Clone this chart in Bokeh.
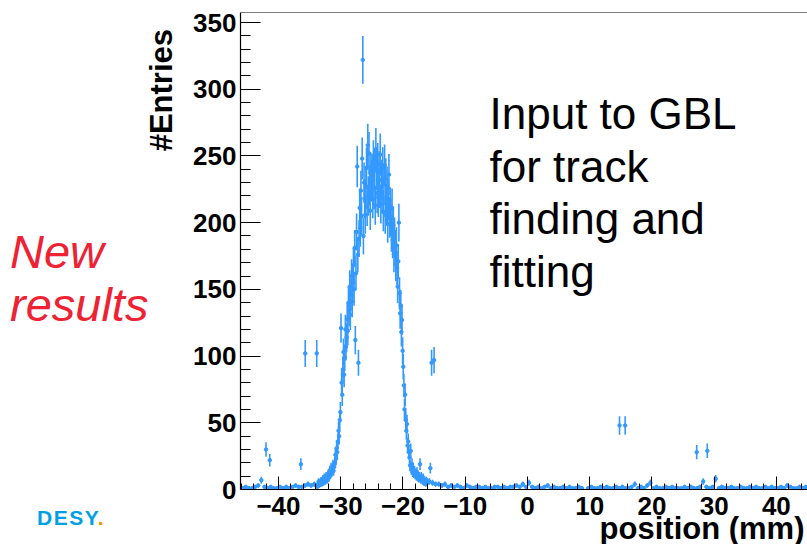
import numpy as np
from bokeh.plotting import figure
from bokeh.layouts import row
from bokeh.models import Range1d, Label, Span, SingleIntervalTicker, ColumnDataSource, Title, Div
from bokeh.embed import file_html
from bokeh.resources import INLINE

# ---------------- data ----------------
# core region histogram: bins of 0.1 mm starting at -34.0 mm
core_lo = -34.0
core_w = 0.1
core_counts = [
    3, 102, 2, 4, 6, 3, 4, 5, 7, 4,
    6, 8, 5, 9, 7, 6, 10, 8, 7, 11,
    12, 9, 14, 11, 16, 13, 15, 18, 14, 17,
    20, 26, 23, 31, 28, 36, 44, 40, 52, 58,
    121, 80, 71, 90, 103, 86, 99, 120, 107, 114,
    128, 119, 140, 134, 152, 131, 146, 160, 141, 155,
    168, 150, 181, 112, 162, 193, 242, 176, 95, 188,
    211, 196, 224, 205, 248, 322, 190, 230, 218, 206,
    227, 241, 212, 258, 220, 252, 228, 209, 237, 231,
    236, 218, 246, 225, 239, 213, 255, 240, 222, 244,
    219, 238, 226, 251, 214, 232, 223, 241, 208, 229,
    243, 206, 233, 214, 227, 199, 218, 236, 203, 212,
    204, 192, 211, 187, 198, 176, 190, 181, 169, 183,
    166, 152, 171, 200, 147, 132, 138, 118, 127, 104,
    92, 78, 60, 71, 52, 44, 49, 33, 36, 28,
    24, 18, 29, 15, 19, 13, 16, 12, 14, 11,
    12, 10, 13, 9, 11, 8, 10, 19, 7, 10,
    8, 6, 9, 5, 7, 6, 4, 7, 5, 6,
]

# background (0.5 mm bins) left of the core: -46 .. -34 mm
bg_w = 0.5
bg_left_lo = -46.0
bg_left_counts = [1, 2, 1, 1, 2, 3, 7, 2, 1, 2, 1, 1,
                  2, 1, 2, 1, 2, 3, 2, 2, 3, 4, 3, 4]

# background (0.5 mm bins) right of the core: -16 .. 45 mm
bg_right_lo = -16.0
bg_right_counts = [
    6, 5, 4, 4,  3, 4, 2, 3,  2, 3, 2, 1,  3, 2, 1, 2,
    2, 1, 2, 1,  1, 2, 2, 1,  2, 1, 2, 2,  3, 2, 4, 2,
    5, 2, 1, 2,  1, 2, 3, 1,  2, 1, 1, 2,  1, 2, 1, 1,
    2, 1, 0, 1,  2, 1, 1, 2,  1, 2, 1, 1,  2, 1, 2, 1,
    1, 2, 4, 1,  2, 1, 3, 5,  1, 2, 1, 1,  2, 1, 2, 1,
    1, 1, 2, 1,  2, 1, 1, 2,  6, 2, 1, 2,  8, 1, 2, 1,
    1, 2, 1, 1,  2, 1, 1, 2,  1, 2, 1, 1,  2, 1, 2, 1,
    1, 2, 1, 3,  2, 1, 1, 2,  1, 2,
]

# isolated entries (position in mm, counts)
out_pos = [-42.0, -41.4, -36.4, -35.7, -15.6, -15.4, -15.0, 14.8, 15.7, 27.2, 28.9]
out_counts = [30, 22, 19, 102, 16, 95, 97, 48, 48, 28, 29]
out_w = 0.1

x_tick_values = [-40, -30, -20, -10, 0, 10, 20, 30, 40]
x_tick_labels = ["\u221240", "\u221230", "\u221220", "\u221210", "0", "10", "20", "30", "40"]
y_tick_values = [0, 50, 100, 150, 200, 250, 300, 350]
y_tick_labels = ["0", "50", "100", "150", "200", "250", "300", "350"]

x_title = "position (mm)"
y_title = "#Entries"
note_lines = ["Input to GBL", "for track", "finding and", "fitting"]
badge_lines = ["New", "results"]
logo_word = "DESY"

# ---------------- assemble histogram ----------------
xs, ys, ws = [], [], []
for i, c in enumerate(core_counts):
    xs.append(core_lo + (i + 0.5) * core_w); ys.append(c); ws.append(core_w)
for i, c in enumerate(bg_left_counts):
    xs.append(bg_left_lo + (i + 0.5) * bg_w); ys.append(c); ws.append(bg_w)
for i, c in enumerate(bg_right_counts):
    xs.append(bg_right_lo + (i + 0.5) * bg_w); ys.append(c); ws.append(bg_w)
for xp, c in zip(out_pos, out_counts):
    xs.append(xp); ys.append(c); ws.append(out_w)

xs = np.array(xs, dtype=float)
ys = np.array(ys, dtype=float)
ws = np.array(ws, dtype=float)
keep = ys > 0
xs, ys, ws = xs[keep], ys[keep], ws[keep]
err = np.sqrt(ys)

src = ColumnDataSource(dict(
    x=xs, y=ys, lo=ys - err, hi=ys + err, x0=xs - ws / 2, x1=xs + ws / 2,
))

BLUE = "#3399ff"
FONT = "Liberation Sans"
LEFT_W = 180

# ---------------- main histogram figure ----------------
p = figure(
    width=807 - LEFT_W, height=544,
    x_range=Range1d(-46.1, 45.0), y_range=Range1d(0, 357.5),
    output_backend="svg", toolbar_location=None,
    min_border_left=240 - LEFT_W, min_border_right=0, min_border_top=12, min_border_bottom=55,
)
p.outline_line_color = None
p.background_fill_color = "white"
p.border_fill_color = "white"
p.xgrid.visible = False
p.ygrid.visible = False

p.segment(x0="x", y0="lo", x1="x", y1="hi", source=src, line_color=BLUE, line_width=1.6)
p.segment(x0="x0", y0="y", x1="x1", y1="y", source=src, line_color=BLUE, line_width=1.6)
p.scatter(x="x", y="y", source=src, marker="circle", size=3.5,
          fill_color=BLUE, line_color=BLUE)

xa = p.xaxis[0]
xa.ticker = SingleIntervalTicker(interval=10, num_minor_ticks=5)
xa.major_label_overrides = dict(zip(x_tick_values, x_tick_labels))
xa.major_tick_in = 13
xa.major_tick_out = 0
xa.minor_tick_in = 6
xa.minor_tick_out = 0
xa.major_label_standoff = 7
ya = p.yaxis[0]
ya.ticker = SingleIntervalTicker(interval=50, num_minor_ticks=5)
ya.major_label_overrides = dict(zip(y_tick_values, y_tick_labels))
ya.major_tick_in = 20
ya.major_tick_out = 0
ya.minor_tick_in = 10
ya.minor_tick_out = 0
ya.major_label_standoff = 4
for ax in (xa, ya):
    ax.axis_line_color = "black"
    ax.axis_line_width = 1.2
    ax.major_tick_line_color = "black"
    ax.minor_tick_line_color = "black"
    ax.major_label_text_font = FONT
    ax.major_label_text_font_style = "bold"
    ax.major_label_text_font_size = "26px"
    ax.major_label_text_color = "black"

p.add_layout(Span(location=357.5, dimension="width", line_color="black", line_width=1.2))

for i, line in enumerate(note_lines):
    p.add_layout(Label(x=249, y=376 - i * 52.7, x_units="screen", y_units="screen",
                       text=line, text_align="left", text_baseline="middle",
                       text_font=FONT, text_font_size="44px", text_color="black"))

xt = Title(text=x_title, align="right", vertical_align="bottom",
           text_font=FONT, text_font_style="bold", text_font_size="31px", text_color="black")
if "standoff" in xt.properties():
    xt.standoff = -18
if "offset" in xt.properties():
    xt.offset = 3
p.add_layout(xt, "below")

# ---------------- left strip: y title and side notes ----------------
left_html = f"""
<div style="position:relative;width:{LEFT_W}px;height:544px;font-family:'{FONT}',Arial,sans-serif;background:white;">
  <div style="position:absolute;left:146px;top:229px;width:200px;height:31px;line-height:1;
              font-size:31px;font-weight:bold;color:black;text-align:right;white-space:nowrap;
              transform-origin:0 0;transform:rotate(-90deg);">{y_title}</div>
  <div style="position:absolute;left:10px;top:228px;line-height:1;font-size:47px;
              font-style:italic;color:#ee2233;white-space:nowrap;">{badge_lines[0]}</div>
  <div style="position:absolute;left:10px;top:281px;line-height:1;font-size:47px;
              font-style:italic;color:#ee2233;white-space:nowrap;">{badge_lines[1]}</div>
  <div style="position:absolute;left:37px;top:507px;line-height:1;font-size:21px;letter-spacing:1.5px;
              font-weight:bold;color:#009fe3;white-space:nowrap;">{logo_word}<span style="color:#f39200;">.</span></div>
</div>
"""
lp = Div(text=left_html, width=LEFT_W, height=544, margin=(0, 0, 0, 0))

layout = row(lp, p, spacing=0)
open("out.html", "w").write(file_html(layout, INLINE))
